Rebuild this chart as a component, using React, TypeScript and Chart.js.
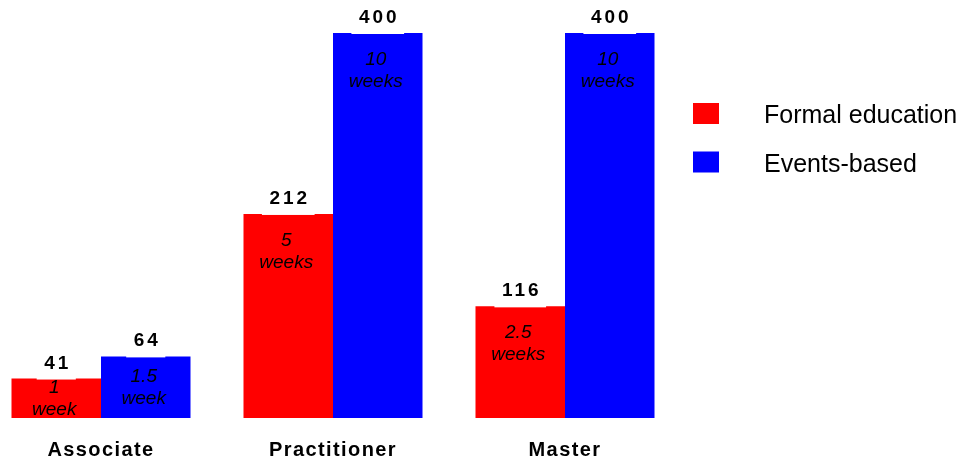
import React, { useEffect, useRef } from "react";
import { Chart, registerables } from "chart.js";

Chart.register(...registerables);

const categories = ["Associate", "Practitioner", "Master"];
const seriesNames = ["Formal education", "Events-based"];
const seriesColors = ["#ff0000", "#0000ff"];
const formalHours = [41, 212, 116];
const eventsHours = [64, 400, 400];
const formalDuration = ["1 week", "5 weeks", "2.5 weeks"];
const eventsDuration = ["1.5 week", "10 weeks", "10 weeks"];
const durations = [formalDuration, eventsDuration];

const FONT = '"Liberation Sans", Arial, sans-serif';

const labelPlugin = {
  id: "barLabels",
  beforeDraw(chart: any) {
    (chart.ctx as any).letterSpacing = "1.4px";
  },
  beforeDatasetsDraw(chart: any) {
    (chart.ctx as any).letterSpacing = "0px";
  },
  afterDatasetsDraw(chart: any) {
    const ctx = chart.ctx;
    chart.data.datasets.forEach((ds: any, i: number) => {
      const meta = chart.getDatasetMeta(i);
      meta.data.forEach((bar: any, j: number) => {
        const x = bar.x;
        const y = bar.y;
        const h = bar.base - bar.y;
        const bw = bar.width;
        ctx.save();
        (ctx as any).letterSpacing = "3px";
        ctx.font = `bold 19px ${FONT}`;
        const txt = String(ds.data[j]);
        const w = ctx.measureText(txt).width;
        ctx.fillStyle = "#ffffff";
        ctx.fillRect(x - w / 2 - 6, y - 28, w + 12, 29);
        ctx.fillStyle = "#000000";
        ctx.textAlign = "center";
        ctx.textBaseline = "alphabetic";
        ctx.fillText(txt, x + 1.5, y - 10);
        ctx.restore();

        ctx.save();
        ctx.beginPath();
        ctx.rect(x - bw / 2, y, bw, h);
        ctx.clip();
        ctx.fillStyle = "#000000";
        ctx.textAlign = "center";
        ctx.textBaseline = "alphabetic";
        (ctx as any).letterSpacing = "0px";
        ctx.font = `italic 19px ${FONT}`;
        const lines = durations[i][j].split(" ");
        const first = Math.min((h - 44) / 2 + 17, 32);
        lines.forEach((ln: string, k: number) => {
          ctx.fillText(ln, x - 2, y + first + k * 22);
        });
        ctx.restore();
      });
    });
  },
  afterDraw(chart: any) {
    const ctx = chart.ctx;
    const area = chart.chartArea;
    ctx.save();
    (ctx as any).letterSpacing = "0px";
    chart.data.datasets.forEach((ds: any, i: number) => {
      const top = 103 + i * 48.5;
      ctx.fillStyle = ds.backgroundColor;
      ctx.fillRect(area.right + 12, top, 26, 21);
      ctx.fillStyle = "#000000";
      ctx.font = `25px ${FONT}`;
      ctx.textAlign = "left";
      ctx.textBaseline = "alphabetic";
      ctx.fillText(ds.label, area.right + 83, top + 20);
    });
    ctx.restore();
  },
};

export default function App() {
  const ref = useRef<HTMLCanvasElement | null>(null);
  useEffect(() => {
    if (!ref.current) return;
    const chart = new Chart(ref.current, {
      type: "bar",
      data: {
        labels: categories,
        datasets: [
          {
            label: seriesNames[0],
            data: formalHours,
            backgroundColor: seriesColors[0],
            borderWidth: 0,
          },
          {
            label: seriesNames[1],
            data: eventsHours,
            backgroundColor: seriesColors[1],
            borderWidth: 0,
          },
        ],
      },
      options: {
        responsive: false,
        animation: false,
        layout: { padding: { top: 33, right: 282, left: 0, bottom: 0 } },
        datasets: {
          bar: { categoryPercentage: 0.7716, barPercentage: 1 },
        },
        plugins: {
          legend: { display: false },
          tooltip: { enabled: false },
        },
        scales: {
          x: {
            grid: { display: false, drawTicks: false },
            border: { display: false },
            ticks: {
              color: "#000000",
              padding: 20,
              font: { family: FONT, size: 20, weight: "bold" },
            },
            afterFit: (scale: any) => {
              scale.height = 41;
            },
          },
          y: {
            display: false,
            min: 0,
            max: 400,
          },
        },
      },
      plugins: [labelPlugin],
    } as any);
    return () => chart.destroy();
  }, []);
  return (
    <div
      style={{
        position: "absolute",
        left: 0,
        top: 0,
        width: 963,
        height: 459,
        overflow: "hidden",
        background: "#ffffff",
      }}
    >
      <canvas
        ref={ref}
        width={978}
        height={459}
        style={{ position: "absolute", left: -15, top: 0, width: 978, height: 459 }}
      />
    </div>
  );
}
